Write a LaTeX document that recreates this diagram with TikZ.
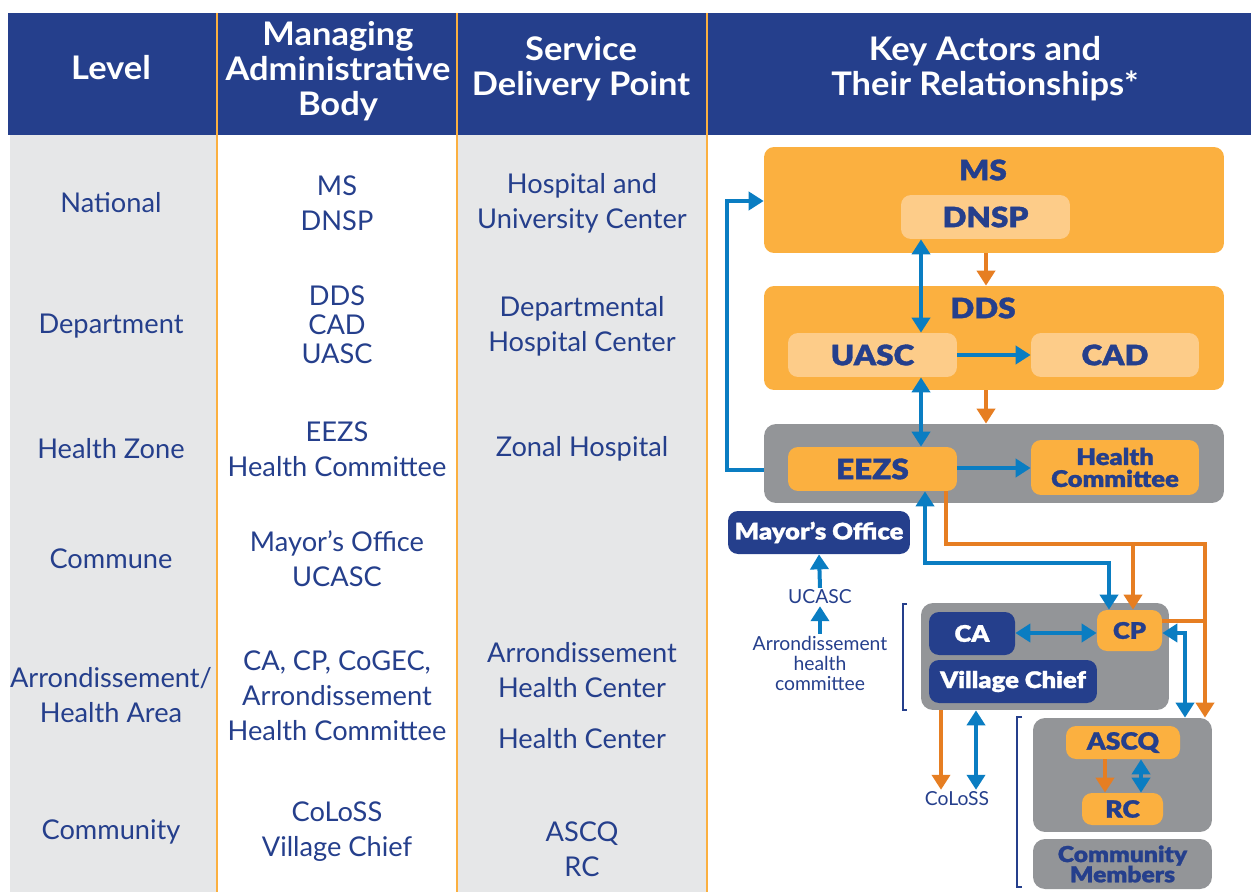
\documentclass[tikz,border=0pt]{standalone}
\usepackage{fontspec}
\setmainfont{Lato}
\newfontfamily\heavyfont{Lato Black}[FakeBold=1.2, FakeStretch=1.12]
\newfontfamily\headfont{Lato Bold}[FakeStretch=1.06]
\usetikzlibrary{arrows.meta}

\definecolor{navy}{HTML}{253F8C}
\definecolor{boxorange}{HTML}{FBB040}
\definecolor{lightorange}{HTML}{FDCC89}
\definecolor{boxgray}{HTML}{939598}
\definecolor{colgray}{HTML}{E6E7E8}
\definecolor{arrowblue}{HTML}{0A7DC2}
\definecolor{arroworange}{HTML}{E67E22}

\tikzset{
  hdr/.style={text=white, align=center, font=\headfont\fontsize{18.5}{19.9}\selectfont},
  cell/.style={text=navy, align=center, font=\fontsize{15.5}{19.9}\selectfont},
  small/.style={text=navy, align=center, inner sep=1pt, font=\fontsize{11}{11.4}\selectfont},
  obox/.style={rectangle, rounded corners=0.2cm, fill=boxorange, text=navy, inner sep=0pt,
    align=center, font=\heavyfont\fontsize{16}{16}\selectfont},
  lbox/.style={obox, fill=lightorange},
  gbox/.style={rectangle, rounded corners=0.24cm, fill=boxgray, inner sep=0pt},
  nbox/.style={obox, fill=navy, text=white},
  sm/.style={font=\heavyfont\fontsize{13}{12.5}\selectfont},
  lbl/.style={text=navy, inner sep=0pt, font=\heavyfont\fontsize{16}{16}\selectfont},
  bl/.style={draw=arrowblue, line width=0.08cm},
  og/.style={draw=arroworange, line width=0.08cm},
  brk/.style={draw=navy, line width=0.035cm}
}

\begin{document}
\begin{tikzpicture}[x=0.02cm, y=-0.02cm, >={Triangle[length=0.3cm,width=0.36cm]}]
  \useasboundingbox (0,0) rectangle (1251,892);

  %%%%% TABLE %%%%%
  \fill[navy] (8,13) rectangle (1251,135);
  \fill[colgray] (10,135) rectangle (217,892);
  \fill[colgray] (457,135) rectangle (707,892);
  \foreach \xx in {217,457,707}
    \draw[boxorange, line width=0.04cm] (\xx,13) -- (\xx,892);

  \node[hdr] (hdr-level) at (111,68) {Level};
  \node[hdr] (hdr-body) at (338,71) {Managing\\Administrative\\Body};
  \node[hdr] (hdr-sdp) at (581,69) {Service\\Delivery Point};
  \node[hdr] (hdr-key) at (985,69) {Key Actors and\\Their Relationships*};

  % levels
  \node[cell] (lv-nat) at (111,203) {National};
  \node[cell] (lv-dep) at (111,326) {Department};
  \node[cell] (lv-hz) at (111,449) {Health Zone};
  \node[cell] (lv-com) at (111,559) {Commune};
  \node[cell] (lv-arr) at (111,695) {Arrondissement/\\Health Area};
  \node[cell] (lv-cty) at (111,832) {Community};

  % managing bodies
  \node[cell] (mb-nat) at (337,203) {MS\\DNSP};
  \node[cell, font=\fontsize{15.5}{16.5}\selectfont] (mb-dep) at (337,325) {DDS\\CAD\\UASC};
  \node[cell] (mb-hz) at (337,449) {EEZS\\Health Committee};
  \node[cell] (mb-com) at (337,559) {Mayor’s Office\\UCASC};
  \node[cell] (mb-arr) at (337,696) {CA, CP, CoGEC,\\Arrondissement\\Health Committee};
  \node[cell] (mb-cty) at (337,832) {CoLoSS\\Village Chief};

  % service delivery points
  \node[cell] (sd-nat) at (582,203) {Hospital and\\University Center};
  \node[cell] (sd-dep) at (582,326) {Departmental\\Hospital Center};
  \node[cell] (sd-hz) at (582,449) {Zonal Hospital};
  \node[cell] (sd-arr) at (582,670) {Arrondissement\\Health Center};
  \node[cell] (sd-hc) at (582,739) {Health Center};
  \node[cell] (sd-cty) at (582,849) {ASCQ\\RC};

  %%%%% ACTORS %%%%%
  \node[obox, minimum width=9.2cm, minimum height=2.12cm] (ms) at (994,200) {};
  \node[lbl] (ms-t) at (983,170) {MS};
  \node[lbox, minimum width=3.38cm, minimum height=0.88cm] (dnsp) at (985.5,217) {DNSP};

  \node[obox, minimum width=9.2cm, minimum height=2.08cm] (dds) at (994,338) {};
  \node[lbl] (dds-t) at (983,308) {DDS};
  \node[lbox, minimum width=3.38cm, minimum height=0.88cm] (uasc) at (872.5,355) {UASC};
  \node[lbox, minimum width=3.36cm, minimum height=0.88cm] (cad) at (1115,355) {CAD};

  \node[gbox, minimum width=9.2cm, minimum height=1.58cm] (hzbox) at (994,463.5) {};
  \node[obox, minimum width=3.38cm, minimum height=0.88cm] (eezs) at (872.5,469) {EEZS};
  \node[obox, sm, minimum width=3.36cm, minimum height=1.1cm] (hc) at (1115,467.5) {Health\\Committee};

  \node[nbox, sm, minimum width=3.64cm, minimum height=0.86cm] (mayor) at (819,532.5) {Mayor’s Office};
  \node[small] (ucasc) at (820,597) {UCASC};
  \node[small] (ahc) at (820,663) {Arrondissement\\health\\committee};

  \node[gbox, minimum width=4.96cm, minimum height=2.14cm] (arbox) at (1045,656.5) {};
  \node[nbox, sm, minimum width=1.72cm, minimum height=0.86cm] (ca) at (972,633.5) {CA};
  \node[nbox, sm, minimum width=3.36cm, minimum height=0.86cm] (vc) at (1013,681.5) {Village Chief};
  \node[obox, sm, minimum width=1.3cm, minimum height=0.82cm] (cp) at (1129.5,630.5) {CP};
  \node[small] (coloss) at (957,799) {CoLoSS};

  \node[gbox, minimum width=3.58cm, minimum height=2.28cm] (cobox) at (1122.5,775) {};
  \node[obox, font=\heavyfont\fontsize{13.5}{13}\selectfont, minimum width=2.28cm, minimum height=0.66cm] (ascq) at (1123,742.5) {ASCQ};
  \node[obox, font=\heavyfont\fontsize{13.5}{13}\selectfont, minimum width=1.62cm, minimum height=0.64cm] (rc) at (1122.5,809) {RC};
  \node[gbox, text=navy, align=center, font=\heavyfont\fontsize{12.5}{11.5}\selectfont, minimum width=3.58cm, minimum height=1.0cm] (cm) at (1122.5,864) {Community\\Members};

  % brackets
  \draw[brk] (907,604) -- (903,604) -- (903,710) -- (907,710);
  \draw[brk] (1022,717) -- (1017,717) -- (1017,887) -- (1022,887);

  % connectors
  \draw[bl, <->] (921,0 |- dnsp.south) -- (921,0 |- uasc.north);
  \draw[og, ->] (986,0 |- ms.south) -- (986,0 |- dds.north);
  \draw[bl, ->] (uasc.east) -- (cad.west);
  \draw[og, ->] (986,0 |- dds.south) -- (986,0 |- hzbox.north);
  \draw[bl, <->] (921,0 |- uasc.south) -- (921,0 |- eezs.north);
  \draw[bl, ->] (eezs.east |- 0,468) -- (hc.west |- 0,468);
  \draw[bl, ->] (hzbox.west |- 0,470) -- (727,470) -- (727,201) -- (ms.west |- 0,201);

  \draw[bl, <->] (925,0 |- eezs.south) -- (925,563) -- (1109,563) -- (1109,0 |- cp.north);
  \draw[og, ->] (946,0 |- eezs.south) -- (946,544) -- (1205,544) -- (1205,0 |- cobox.north);
  \draw[og, ->] (1133,544) -- (1133,0 |- cp.north);
  \draw[og] (cp.east |- 0,621) -- (1205,621);
  \draw[bl, <->] (cp.east |- 0,633) -- (1185,633) -- (1185,0 |- cobox.north);
  \draw[bl, <->] (ca.east |- 0,633) -- (cp.west |- 0,633);

  \draw[bl, ->] (ucasc.north) -- (mayor.south);
  \draw[bl, ->] (ahc.north) -- (ucasc.south);

  \draw[og, ->] (941,0 |- arbox.south) -- (941,0 |- coloss.north);
  \draw[bl, <->] (976,0 |- arbox.south) -- (976,0 |- coloss.north);

  \draw[og, ->] (1105,0 |- ascq.south) -- (1105,0 |- rc.north);
  \draw[bl, <->] (1141,0 |- ascq.south) -- (1141,0 |- rc.north);
\end{tikzpicture}
\end{document}
